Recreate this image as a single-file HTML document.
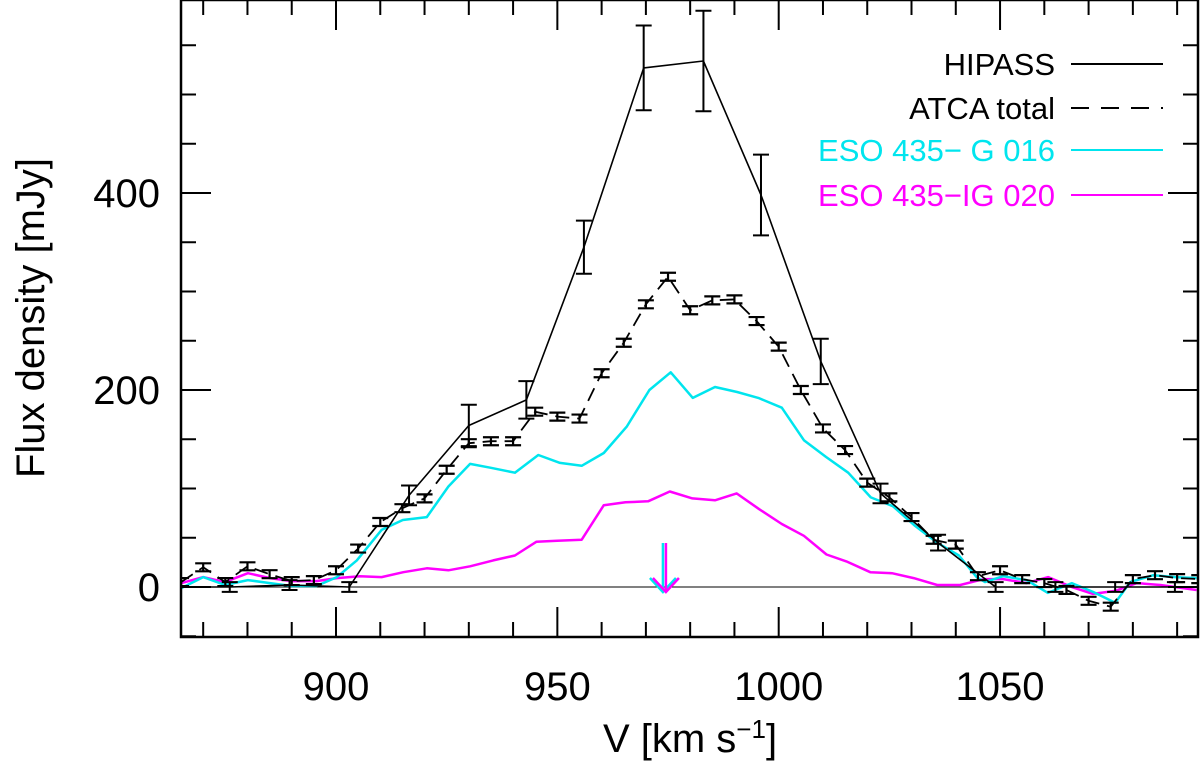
<!DOCTYPE html>
<html><head><meta charset="utf-8"><style>
html,body{margin:0;padding:0;background:#fff;width:1200px;height:764px;overflow:hidden}
svg{display:block}
text{font-family:"Liberation Sans",sans-serif;}
</style></head><body>
<svg id="chart" width="1200" height="764" viewBox="0 0 1200 764"></svg>
<script>
const atcaV = [865,870,875,880,885,890,895,900,905,910,915,920,925,930,935,940,945,950,955,960,965,970,975,980,985,990,995,1000,1005,1010,1015,1020,1025,1030,1035,1040,1045,1050,1055,1060,1065,1070,1075,1080,1085,1090,1095];
const atcaF = [5,20,5,21,13,6,7,17,39,66,80,90,119,146,148,148,178,173,171,217,248,287,315,281,291,292,270,244,200,161,139,106,91,71,48,43,11,17,8,4,-3,-14,-20,8,12,9,8];
const hipassV = [862.5,876,889.5,903,916.5,930,943,956,969.5,983,996,1009.5,1023,1036,1049,1062.5,1076,1089.5];
const hipassF = [0,0,2,0,93,164,190,345,527,534,398,229,95,45,0,0,0,0];
const hipassErr = [5,5,5,5,10,21,19,27,43,51,41,23,10,8,5,5,5,5];
const cyanV = [865.1,870,874.9,880.1,885.1,890,895.6,900.2,904.7,910.3,915.1,920.5,925.4,930.3,935,940.4,945.7,950.6,955.5,960.5,965.7,970.8,975.6,980.6,985.6,990.6,995.4,1000.7,1005.7,1010.7,1015.7,1020.8,1025.8,1030.8,1035.8,1040.7,1044.7,1046.6,1050.7,1056,1060.8,1066.2,1071,1076,1079.4,1084.6,1089.5,1094.4];
const cyanF = [-1,10,2,7,4,1,1,10,27,58,68,71,102,125,121,116,134,126,123,136,163,200,218,192,203,198,192,182,149,132,116,91,82,62,45,32,10,5,11,7,-6,4,-5,-16,5,12,10,9];
const magV = [865.1,870,874.9,880.1,885.1,890,895.6,900.2,905.4,910.3,915.2,920.5,925.4,930.3,935.5,940.4,945.3,950,955.5,960.5,965.4,970.5,975.4,980.5,985.6,990.5,995.6,1000.7,1005.7,1010.8,1015.3,1020.7,1025.6,1030.5,1035.8,1041,1046.3,1050.7,1056,1060.9,1066.2,1071,1076,1080.9,1086.2,1094.4];
const magF = [4,10,5,14,9,6,6,9,11,10,15,19,17,21,27,32,46,47,48,83,86,87,97,90,88,95,79,64,52,33,26,15,14,9,2,2,8,8,4,10,0,-7,-4,4,2,-3];
const xTicks = [900,950,1000,1050];
const yTicks = [0,200,400];
const arrowV = 974.3;

const NS="http://www.w3.org/2000/svg";
const svg=document.getElementById('chart');
const X0=181,X1=1198,Y0=0,Y1=637;
function sx(v){return 336+(v-900)*4.427;}
function sy(f){return 587-f*0.985;}
function mk(tag,attrs,parent){const e=document.createElementNS(NS,tag);for(const k in attrs)e.setAttribute(k,attrs[k]);(parent||svg).appendChild(e);return e;}

const clip=mk('clipPath',{id:'pc'});mk('rect',{x:X0,y:Y0,width:X1-X0,height:Y1-Y0},clip);

// zero line
const zl=mk('line',{x1:X0,x2:X1,y1:sy(0),y2:sy(0),stroke:'#000','stroke-width':1});



function poly(V,F,color,w,dash,name){
  const p=V.map((v,i)=>sx(v).toFixed(1)+','+sy(F[i]).toFixed(1)).join(' ');
  const e=mk('polyline',{points:p,fill:'none',stroke:color,'stroke-width':w,'clip-path':'url(#pc)','stroke-linejoin':'round'});
  if(dash)e.setAttribute('stroke-dasharray',dash);
  
  
  return e;
}
poly(magV,magF,'#ff00ff',2.5,null,'eso435-ig020-line');
poly(cyanV,cyanF,'#00e5ee',2.5,null,'eso435-g016-line');
poly(atcaV,atcaF,'#000',1.8,'14,8','atca-total-line');
poly(hipassV,hipassF,'#000',1.6,null,'hipass-line');

// ATCA error bars
const atcaErr=4;
atcaV.forEach((v,i)=>{
  const g=mk('g',{stroke:'#000','stroke-width':2.2,'clip-path':'url(#pc)'});
  
  
  const x=sx(v),y=sy(atcaF[i]);
  mk('line',{x1:x,x2:x,y1:y-atcaErr,y2:y+atcaErr},g);
  mk('line',{x1:x-8,x2:x+8,y1:y-atcaErr,y2:y-atcaErr},g);
  mk('line',{x1:x-8,x2:x+8,y1:y+atcaErr,y2:y+atcaErr},g);
});
// HIPASS error bars
hipassV.forEach((v,i)=>{
  const g=mk('g',{stroke:'#000','stroke-width':2,'clip-path':'url(#pc)'});
  
  
  const x=sx(v),y1=sy(hipassF[i]+hipassErr[i]),y2=sy(hipassF[i]-hipassErr[i]);
  mk('line',{x1:x,x2:x,y1:y1,y2:y2},g);
  mk('line',{x1:x-8,x2:x+8,y1:y1,y2:y1},g);
  mk('line',{x1:x-8,x2:x+8,y1:y2,y2:y2},g);
});

// arrows
[['#00e5ee',-2,'g016-position-arrow'],['#ff00ff',1,'ig020-position-arrow']].forEach(a=>{
  const x=sx(arrowV)+a[1];
  const g=mk('g',{stroke:a[0],'stroke-width':2.5,fill:'none'});
  
  
  mk('line',{x1:x,x2:x,y1:543,y2:592},g);
  mk('polyline',{points:`${x-13},578 ${x},592 ${x+13},578`},g);
});

// frame
const fr=mk('rect',{x:X0,y:Y0,width:X1-X0,height:Y1-Y0,fill:'none',stroke:'#000','stroke-width':2.5});



// ticks
const tk=mk('g',{stroke:'#000','stroke-width':2});


for(let v=870;v<=1090;v+=10){
  const x=sx(v),L=(v%50===0)?30:15;
  mk('line',{x1:x,x2:x,y1:Y1,y2:Y1-L},tk);
  mk('line',{x1:x,x2:x,y1:Y0,y2:Y0+L},tk);
}
for(let f=-50;f<=550;f+=50){
  const y=sy(f),L=(f%200===0)?30:15;
  if(y<Y0||y>Y1)continue;
  mk('line',{x1:X0,x2:X0+L,y1:y,y2:y},tk);
  mk('line',{x1:X1,x2:X1-L,y1:y,y2:y},tk);
}
xTicks.forEach(v=>{
  const t=mk('text',{x:sx(v),y:700,'font-size':40,'text-anchor':'middle',fill:'#000'});
  t.textContent=v;
  
  
});
yTicks.forEach(f=>{
  const t=mk('text',{x:160,y:sy(f)+14,'font-size':40,'text-anchor':'end',fill:'#000'});
  t.textContent=f;
  
  
});
const xt=mk('text',{x:690,y:752,'font-size':40,'text-anchor':'middle',fill:'#000'});
xt.innerHTML='V [km s<tspan dy="-14" font-size="26">−1</tspan><tspan dy="14">]</tspan>';


const yt=mk('text',{x:0,y:0,'font-size':40,'text-anchor':'middle',fill:'#000',transform:'translate(44,318) rotate(-90)'});
yt.textContent='Flux density [mJy]';



// legend
const leg=[['HIPASS','#000',null,64,'legend-hipass'],['ATCA total','#000','18,12',108,'legend-atca-total'],['ESO 435\u2212 G 016','#00e5ee',null,150,'legend-eso435-g016'],['ESO 435\u2212IG 020','#ff00ff',null,195,'legend-eso435-ig020']];
leg.forEach(l=>{
  const g=mk('g',{});
  
  
  const t=mk('text',{x:1055,y:l[3]+11,'font-size':31,'text-anchor':'end',fill:l[1]},g);
  t.textContent=l[0];
  const ln=mk('line',{x1:1071,x2:1163,y1:l[3],y2:l[3],stroke:l[1],'stroke-width':2},g);
  if(l[2])ln.setAttribute('stroke-dasharray',l[2]);
});
</script>
</body></html>
